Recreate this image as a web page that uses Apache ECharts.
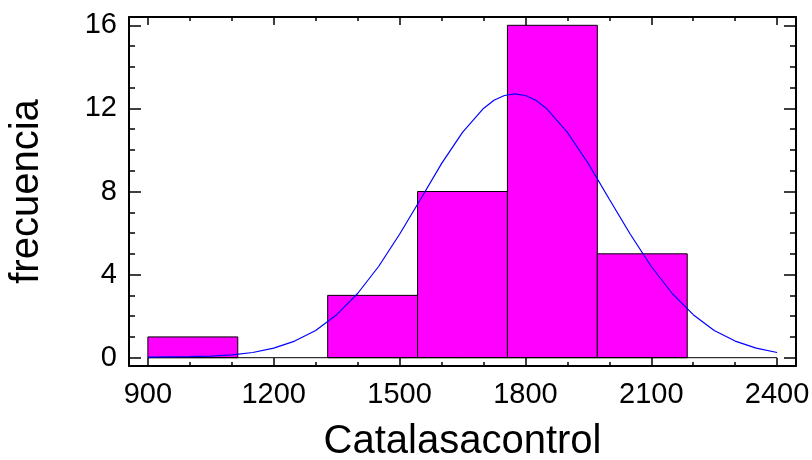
<!DOCTYPE html>
<html>
<head>
<meta charset="utf-8">
<script src="https://cdn.jsdelivr.net/npm/echarts@6/dist/echarts.min.js"></script>
<style>html,body{margin:0;padding:0;background:#fff;}#c{width:812px;height:460px;}</style>
</head>
<body>
<div id="c"></div>
<script>
// Histogram bins (edges) and frequencies
const binEdges = [900, 1114.3, 1328.6, 1542.9, 1757.1, 1971.4, 2185.7, 2400];
const counts = [1, 0, 3, 8, 16, 5, 0];
// Fitted normal curve
const curveX = [900, 950, 1000, 1050, 1100, 1150, 1200, 1250, 1300, 1350, 1400, 1450, 1500, 1550, 1600, 1650, 1700, 1725, 1750, 1775, 1800, 1825, 1850, 1900, 1950, 2000, 2050, 2100, 2150, 2200, 2250, 2300, 2350, 2400];
const curveY = [0.03, 0.04, 0.05, 0.08, 0.14, 0.25, 0.46, 0.80, 1.31, 2.07, 3.09, 4.39, 5.94, 7.63, 9.34, 10.85, 12.00, 12.39, 12.62, 12.70, 12.62, 12.39, 12.00, 10.85, 9.34, 7.63, 5.94, 4.39, 3.09, 2.07, 1.31, 0.80, 0.46, 0.25];
// Tick values
const xMajor = [900, 1200, 1500, 1800, 2100, 2400];
const xMinor = [900, 1000, 1100, 1200, 1300, 1400, 1500, 1600, 1700, 1800, 1900, 2000, 2100, 2200, 2300, 2400];
const yMajor = [0, 4, 8, 12, 16];
const yMinor = [0, 1, 2, 3, 4, 5, 6, 7, 8, 9, 10, 11, 12, 13, 14, 15, 16];
const xName = 'Catalasacontrol';
const yName = 'frecuencia';

const X_MIN = 855, X_MAX = 2445, Y_MIN = -0.4, Y_MAX = 16.4;
const FONT = '"Liberation Sans", Arial, sans-serif';

const bars = [];
for (let i = 0; i < counts.length; i++) bars.push([binEdges[i], binEdges[i + 1], counts[i]]);
const curve = curveX.map((x, i) => [x, curveY[i]]);
const plain = v => String(v);

function xAxisDef(pos, ticks, len, showLine, labels) {
  return {
    type: 'value', position: pos, min: X_MIN, max: X_MAX,
    axisLine: { show: showLine, onZero: false, lineStyle: { color: '#000', width: 2 } },
    axisTick: { show: true, inside: true, length: len, customValues: ticks, lineStyle: { color: '#000', width: 1.5 } },
    axisLabel: labels ? { show: true, customValues: ticks, formatter: plain, fontSize: 29, color: '#000', fontFamily: FONT, margin: 14 } : { show: false },
    splitLine: { show: false }
  };
}
function yAxisDef(pos, ticks, len, showLine, labels) {
  return {
    type: 'value', position: pos, min: Y_MIN, max: Y_MAX,
    axisLine: { show: showLine, onZero: false, lineStyle: { color: '#000', width: 2 } },
    axisTick: { show: true, inside: true, length: len, customValues: ticks, lineStyle: { color: '#000', width: 1.5 } },
    axisLabel: labels ? { show: true, customValues: ticks, formatter: plain, fontSize: 29, color: '#000', fontFamily: FONT, margin: 12 } : { show: false },
    splitLine: { show: false }
  };
}

const xA0 = xAxisDef('bottom', xMajor, 8, true, true);
xA0.name = xName; xA0.nameLocation = 'middle'; xA0.nameGap = 56;
xA0.nameTextStyle = { fontSize: 40, color: '#000', fontFamily: FONT };
const yA0 = yAxisDef('left', yMajor, 12, true, true);
yA0.name = yName; yA0.nameLocation = 'middle'; yA0.nameGap = 82;
yA0.nameTextStyle = { fontSize: 40, color: '#000', fontFamily: FONT };

const chart = echarts.init(document.getElementById('c'), null, { renderer: 'canvas' });
chart.setOption({
  animation: false,
  backgroundColor: '#fff',
  grid: { left: 129, right: 16, top: 17, bottom: 94, containLabel: false, outerBoundsMode: 'none' },
  xAxis: [
    xA0,
    xAxisDef('bottom', xMinor, 4, false, false),
    xAxisDef('top', xMajor, 8, true, false),
    xAxisDef('top', xMinor, 4, false, false)
  ],
  yAxis: [
    yA0,
    yAxisDef('left', yMinor, 6, false, false),
    yAxisDef('right', yMajor, 12, true, false),
    yAxisDef('right', yMinor, 6, false, false)
  ],
  series: [
    {
      type: 'custom', xAxisIndex: 0, yAxisIndex: 0,
      data: bars,
      encode: { x: [0, 1], y: 2 },
      renderItem: function (params, api) {
        const c = api.value(2);
        if (!c) return null;
        const p0 = api.coord([api.value(0), 0]);
        const p1 = api.coord([api.value(1), c]);
        return {
          type: 'rect',
          shape: { x: p0[0], y: p1[1], width: p1[0] - p0[0], height: p0[1] - p1[1] },
          style: { fill: '#FF00FF', stroke: '#000', lineWidth: 1 }
        };
      },
      z: 2
    },
    {
      type: 'line', xAxisIndex: 0, yAxisIndex: 0,
      data: [[binEdges[0], 0], [binEdges[binEdges.length - 1], 0]],
      symbol: 'none', lineStyle: { color: '#000', width: 1 }, z: 3, silent: true
    },
    {
      type: 'line', xAxisIndex: 0, yAxisIndex: 0,
      data: curve, symbol: 'none', smooth: false,
      lineStyle: { color: '#0000FF', width: 1.2 }, z: 4, silent: true
    }
  ]
});
</script>
</body>
</html>
